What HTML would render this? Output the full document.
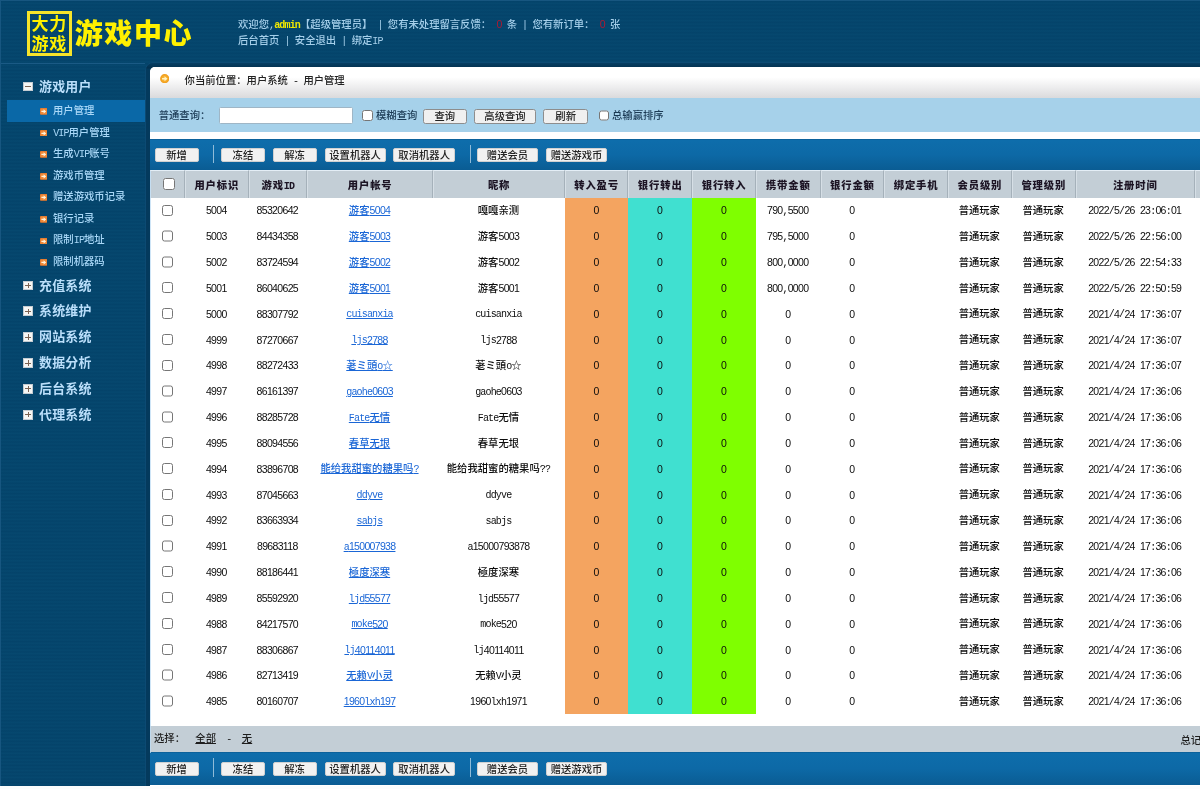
<!DOCTYPE html>
<html lang="zh-CN">
<head>
<meta charset="utf-8">
<title>游戏中心 - 用户管理</title>
<style>
*{box-sizing:border-box;margin:0;padding:0}
html,body{width:1200px;height:789px;overflow:hidden}
body{position:relative;background:#04446b;font-family:"Liberation Sans", "Noto Sans CJK SC", sans-serif;font-size:10.33px;font-weight:500;color:#222;line-height:1}
#bg{position:absolute;left:0;top:0;width:1200px;height:789px;background:repeating-linear-gradient(180deg,#06486f 0,#04436a 1.72px,#06486f 3.44px)}
.d{position:relative;left:0.1px;white-space:pre;font-family:"Liberation Sans",sans-serif;font-size:10.5px;letter-spacing:-0.67px}
.a{position:relative;left:0;white-space:pre;font-family:"Liberation Mono",monospace;font-size:10px;letter-spacing:-0.83px}
/* header */
#logo{position:absolute;left:26.6px;top:11.1px;width:45.4px;height:45px;border:3px solid #f6e42a;color:#fff100;font-family:"Liberation Sans","Noto Sans CJK SC",sans-serif;font-weight:700;font-size:17px;line-height:20.2px;text-align:center;padding-top:1.2px;padding-left:0;white-space:nowrap;letter-spacing:0.8px}
#brand{position:absolute;left:74.8px;top:15.2px;height:40px;line-height:40px;color:#fff100;font-family:"Liberation Sans","Noto Sans CJK SC",sans-serif;font-weight:900;font-size:28px;letter-spacing:1.55px;white-space:nowrap}
.hl{position:absolute;left:238px;height:14px;line-height:14px;color:#a5cfea;white-space:nowrap}
.hl b{color:#f0e800;font-weight:700}
.hl i{color:#b01830;font-style:normal}
/* sidebar */
#sline{position:absolute;left:0;top:63px;width:145px;height:1px;background:#1a5a85}
#etop{position:absolute;left:0;top:0;width:1200px;height:1px;background:#175680}
#eleft{position:absolute;left:0;top:0;width:1px;height:789px;background:#175680}
.sec{position:absolute;left:39px;height:16px;line-height:16px;font-weight:700;font-size:12.95px;letter-spacing:0.2px;color:#badefa;font-family:"Liberation Sans", "Noto Sans CJK SC", sans-serif;white-space:nowrap}
.pm{position:absolute;left:23.2px;width:9.8px;height:9.8px;background:#f6f6f4;border:1px solid #c4ccd2}
.pm:before{content:"";position:absolute;left:1.1px;top:3.4px;width:5.6px;height:1px;background:#7a6252}
.pm.plus:after{content:"";position:absolute;left:3.4px;top:1.1px;width:1px;height:5.6px;background:#7a6252}
.it{position:absolute;left:53px;height:14px;line-height:14px;color:#a9d8f8;white-space:nowrap}
.ic{position:absolute;left:39.9px}
.it .a{left:0.2px}
#sel{position:absolute;left:6.8px;top:99.8px;width:138.4px;height:21.8px;background:#0a68a7}

#shade{position:absolute;left:145px;top:62px;width:1060px;height:740px;background:linear-gradient(180deg,#053e63 0,#03304e 5px,#043a5d 6px),#043a5d;border-radius:8px 0 0 0;border:1px solid #0c4a73}
#panel{position:absolute;left:150px;top:67px;width:1050px;height:722px;background:#fff;border-radius:5px 0 0 0;overflow:hidden}
#tbar{position:absolute;left:0;top:0;width:1050px;height:31.3px;background:linear-gradient(180deg,#fff 0,#fff 33%,#dadadc 100%)}
#loc{position:absolute;left:34.6px;top:6.6px;height:14px;line-height:14px;color:#222;white-space:nowrap}
#sbar{position:absolute;left:0;top:31.3px;width:1050px;height:33.8px;background:#a6d1ea}
.tool{position:absolute;left:0;width:1050px;height:31.2px;background:linear-gradient(180deg,#0a5c94 0,#0e6dab 1.5px,#0d69a6 50%,#0a5c93 100%)}
.btn{position:absolute;display:block;appearance:none;-webkit-appearance:none;margin:0;padding:1.1px 0 0 0;height:14.4px;line-height:12.4px;text-align:center;background:#f1f1f1;border:1px solid #d0d0d0;border-radius:2px;color:#222;white-space:nowrap;font-family:inherit;font-weight:inherit;font-size:10.33px}
.sb{border-color:#8d8d8d;background:#f0f0f0;border-radius:2.5px}
.sep{position:absolute;width:1px;height:18.5px;background:#8fbbd8}
.cb{position:absolute;display:block;margin:0;padding:0;width:10.6px;height:10.8px}
.cb.r{width:11.4px;height:11.3px}
.lbl{position:absolute;height:14px;line-height:14px;white-space:nowrap;color:#1b3a54}
#inp{position:absolute;display:block;appearance:none;-webkit-appearance:none;margin:0;padding:0;outline:0;left:69.4px;top:39.6px;width:134px;height:17.8px;background:#fff;border:1px solid #9fb6c6;border-radius:1.5px}
#grid{position:absolute;left:0;top:102.9px;width:1110px;table-layout:fixed;border-collapse:separate;border-spacing:0}
#grid th{height:27.7px;padding:0;background:#c3ced6;border-top:1.5px solid #e4eef6;border-left:1px solid #d6dfe6;border-right:1px solid #a5b1ba;line-height:23.4px;vertical-align:top;padding-top:2.8px;text-align:center;font-weight:900;letter-spacing:0.85px;color:#1c1424;white-space:nowrap;overflow:hidden}
#grid td{height:25.84px;padding:1.6px 1.3px 0 0;line-height:24.24px;vertical-align:top;text-align:center;white-space:nowrap;color:#0c0c0c;overflow:hidden}
#grid td.c0{padding:7px 0 0 12.1px;line-height:0;text-align:left}
#grid th .hc{margin:7.5px 0 0 12.2px}
#grid th:first-child{text-align:left;padding-top:0;line-height:0}
#grid .cb{position:static}
#grid .k1{background:#f4a460}
#grid .k2{background:#40e0d0}
#grid .k3{background:#7fff00}
#grid a{color:#1a66d6;text-decoration:underline}
#grid .a,#grid .d{line-height:1}
#grid .d{top:0.3px}
.ft{color:#1e1e1e}
.ft a{color:#1e1e1e;text-decoration:underline}
#ledge{position:absolute;left:150px;top:171px;width:1px;height:582px;background:rgba(190,220,244,0.75)}
#bstrip{position:absolute;left:0;top:786px;width:1200px;height:3px;background:#fbfdfd}
#foot{position:absolute;left:0;top:659.3px;width:1050px;height:26px;background:#c3ced6}
</style>
</head>
<body>
<div id="bg"></div>
<header>
<div id="logo">大力<br>游戏</div>
<div id="brand">游戏中心</div>
<div class="hl" style="top:16.7px">欢迎您<span class="a">,</span><b class="a">admin</b>【超级管理员】<span class="a"> | </span>您有未处理留言反馈：<span class="a"> </span><i class="d">0</i><span class="a"> </span>条<span class="a"> | </span>您有新订单：<span class="a"> </span><i class="d">0</i><span class="a"> </span>张</div>
<div class="hl" style="top:34.1px">后台首页<span class="a"> | </span>安全退出<span class="a"> | </span>绑定<span class="a">IP</span></div>
</header>
<div id="sline"></div><div id="etop"></div><div id="eleft"></div>
<nav>
<div id="sel"></div>
<div class="pm" style="top:81.5px"></div><div class="sec" style="top:79px">游戏用户</div>
<svg class="ic" style="top:108.20px" width="7.4" height="6.7" viewBox="0 0 74 67"><rect width="74" height="67" rx="8" fill="#d8702a"/><rect x="5" y="5" width="64" height="57" rx="5" fill="#f08a38"/><path d="M14 27h22V13l26 21-26 21V41H14z" fill="#fff4dc"/></svg><div class="it" style="top:104.10px">用户管理</div>
<svg class="ic" style="top:129.75px" width="7.4" height="6.7" viewBox="0 0 74 67"><rect width="74" height="67" rx="8" fill="#d8702a"/><rect x="5" y="5" width="64" height="57" rx="5" fill="#f08a38"/><path d="M14 27h22V13l26 21-26 21V41H14z" fill="#fff4dc"/></svg><div class="it" style="top:125.65px"><span class="a">VIP</span>用户管理</div>
<svg class="ic" style="top:151.30px" width="7.4" height="6.7" viewBox="0 0 74 67"><rect width="74" height="67" rx="8" fill="#d8702a"/><rect x="5" y="5" width="64" height="57" rx="5" fill="#f08a38"/><path d="M14 27h22V13l26 21-26 21V41H14z" fill="#fff4dc"/></svg><div class="it" style="top:147.20px">生成<span class="a">VIP</span>账号</div>
<svg class="ic" style="top:172.85px" width="7.4" height="6.7" viewBox="0 0 74 67"><rect width="74" height="67" rx="8" fill="#d8702a"/><rect x="5" y="5" width="64" height="57" rx="5" fill="#f08a38"/><path d="M14 27h22V13l26 21-26 21V41H14z" fill="#fff4dc"/></svg><div class="it" style="top:168.75px">游戏币管理</div>
<svg class="ic" style="top:194.40px" width="7.4" height="6.7" viewBox="0 0 74 67"><rect width="74" height="67" rx="8" fill="#d8702a"/><rect x="5" y="5" width="64" height="57" rx="5" fill="#f08a38"/><path d="M14 27h22V13l26 21-26 21V41H14z" fill="#fff4dc"/></svg><div class="it" style="top:190.30px">赠送游戏币记录</div>
<svg class="ic" style="top:215.95px" width="7.4" height="6.7" viewBox="0 0 74 67"><rect width="74" height="67" rx="8" fill="#d8702a"/><rect x="5" y="5" width="64" height="57" rx="5" fill="#f08a38"/><path d="M14 27h22V13l26 21-26 21V41H14z" fill="#fff4dc"/></svg><div class="it" style="top:211.85px">银行记录</div>
<svg class="ic" style="top:237.50px" width="7.4" height="6.7" viewBox="0 0 74 67"><rect width="74" height="67" rx="8" fill="#d8702a"/><rect x="5" y="5" width="64" height="57" rx="5" fill="#f08a38"/><path d="M14 27h22V13l26 21-26 21V41H14z" fill="#fff4dc"/></svg><div class="it" style="top:233.40px">限制<span class="a">IP</span>地址</div>
<svg class="ic" style="top:259.05px" width="7.4" height="6.7" viewBox="0 0 74 67"><rect width="74" height="67" rx="8" fill="#d8702a"/><rect x="5" y="5" width="64" height="57" rx="5" fill="#f08a38"/><path d="M14 27h22V13l26 21-26 21V41H14z" fill="#fff4dc"/></svg><div class="it" style="top:254.95px">限制机器码</div>
<div class="pm plus" style="top:280.60px"></div><div class="sec" style="top:277.50px">充值系统</div>
<div class="pm plus" style="top:306.44px"></div><div class="sec" style="top:303.34px">系统维护</div>
<div class="pm plus" style="top:332.28px"></div><div class="sec" style="top:329.18px">网站系统</div>
<div class="pm plus" style="top:358.12px"></div><div class="sec" style="top:355.02px">数据分析</div>
<div class="pm plus" style="top:383.96px"></div><div class="sec" style="top:380.86px">后台系统</div>
<div class="pm plus" style="top:409.80px"></div><div class="sec" style="top:406.70px">代理系统</div>
</nav>
<div id="shade"></div>
<main id="panel"><div id="tbar"></div>
<svg style="position:absolute;left:9.9px;top:6.9px" width="9.4" height="9.4" viewBox="0 0 10 10"><defs><radialGradient id="og" cx="0.5" cy="0.5" r="0.5"><stop offset="0" stop-color="#fdc24a"/><stop offset="0.75" stop-color="#f5a623"/><stop offset="1" stop-color="#eb9a1c"/></radialGradient></defs><circle cx="5" cy="5" r="4.9" fill="url(#og)"/><path d="M2.2 4.2h2.6V2.4L8 5 4.8 7.6V5.8H2.2z" fill="#fff3c4"/></svg>
<div id="loc">你当前位置：用户系统<span class="a"> - </span>用户管理</div>
<div id="sbar"></div>
<div class="lbl" style="left:8.7px;top:41.5px">普通查询：</div>
<input id="inp" type="text" value="">
<input type="checkbox" class="cb" style="left:212.3px;top:43.4px">
<div class="lbl" style="left:226.0px;top:41.9px">模糊查询</div>
<button type="button" class="btn sb" style="left:272.5px;top:42.2px;width:44.5px">查询</button>
<button type="button" class="btn sb" style="left:324.0px;top:42.2px;width:62.0px">高级查询</button>
<button type="button" class="btn sb" style="left:393.4px;top:42.2px;width:44.6px">刷新</button>
<input type="checkbox" class="cb" style="left:448.6px;top:43.4px">
<div class="lbl" style="left:462.0px;top:41.9px">总输赢排序</div>
<div class="tool" style="top:71.8px;height:31.2px"></div>
<button type="button" class="btn" style="left:4.7px;top:81.1px;width:43.9px">新增</button>
<button type="button" class="btn" style="left:71.1px;top:81.1px;width:43.7px">冻结</button>
<button type="button" class="btn" style="left:122.7px;top:81.1px;width:43.9px">解冻</button>
<button type="button" class="btn" style="left:174.6px;top:81.1px;width:61.0px">设置机器人</button>
<button type="button" class="btn" style="left:243.4px;top:81.1px;width:61.6px">取消机器人</button>
<button type="button" class="btn" style="left:327.0px;top:81.1px;width:61.0px">赠送会员</button>
<button type="button" class="btn" style="left:396.0px;top:81.1px;width:61.0px">赠送游戏币</button>
<div class="sep" style="left:63.3px;top:77.8px"></div>
<div class="sep" style="left:319.7px;top:77.8px"></div>
<table id="grid"><colgroup><col style="width:35.0px"><col style="width:63.6px"><col style="width:58.5px"><col style="width:126.1px"><col style="width:131.8px"><col style="width:63.3px"><col style="width:63.9px"><col style="width:63.8px"><col style="width:64.6px"><col style="width:63.7px"><col style="width:63.7px"><col style="width:64.0px"><col style="width:63.7px"><col style="width:119.3px"><col style="width:65.0px"></colgroup><thead><tr><th><input type="checkbox" class="cb r hc"></th><th>用户标识</th><th>游戏<span class="a">ID</span></th><th>用户帐号</th><th>昵称</th><th>转入盈亏</th><th>银行转出</th><th>银行转入</th><th>携带金额</th><th>银行金额</th><th>绑定手机</th><th>会员级别</th><th>管理级别</th><th>注册时间</th><th></th></tr></thead><tbody><tr><td class="c0"><input type="checkbox" class="cb r"></td><td><span class="d">5004</span></td><td><span class="d">85320642</span></td><td><a>游客<span class="d">5004</span></a></td><td>嘎嘎亲测</td><td class="k1"><span class="d">0</span></td><td class="k2"><span class="d">0</span></td><td class="k3"><span class="d">0</span></td><td><span class="d">790</span><span class="a">,</span><span class="d">5500</span></td><td><span class="d">0</span></td><td></td><td>普通玩家</td><td>普通玩家</td><td><span class="d">2022</span><span class="a">/</span><span class="d">5</span><span class="a">/</span><span class="d">26</span><span class="a"> </span><span class="d">23</span><span class="a">:</span><span class="d">06</span><span class="a">:</span><span class="d">01</span></td><td></td></tr><tr><td class="c0"><input type="checkbox" class="cb r"></td><td><span class="d">5003</span></td><td><span class="d">84434358</span></td><td><a>游客<span class="d">5003</span></a></td><td>游客<span class="d">5003</span></td><td class="k1"><span class="d">0</span></td><td class="k2"><span class="d">0</span></td><td class="k3"><span class="d">0</span></td><td><span class="d">795</span><span class="a">,</span><span class="d">5000</span></td><td><span class="d">0</span></td><td></td><td>普通玩家</td><td>普通玩家</td><td><span class="d">2022</span><span class="a">/</span><span class="d">5</span><span class="a">/</span><span class="d">26</span><span class="a"> </span><span class="d">22</span><span class="a">:</span><span class="d">56</span><span class="a">:</span><span class="d">00</span></td><td></td></tr><tr><td class="c0"><input type="checkbox" class="cb r"></td><td><span class="d">5002</span></td><td><span class="d">83724594</span></td><td><a>游客<span class="d">5002</span></a></td><td>游客<span class="d">5002</span></td><td class="k1"><span class="d">0</span></td><td class="k2"><span class="d">0</span></td><td class="k3"><span class="d">0</span></td><td><span class="d">800</span><span class="a">,</span><span class="d">0000</span></td><td><span class="d">0</span></td><td></td><td>普通玩家</td><td>普通玩家</td><td><span class="d">2022</span><span class="a">/</span><span class="d">5</span><span class="a">/</span><span class="d">26</span><span class="a"> </span><span class="d">22</span><span class="a">:</span><span class="d">54</span><span class="a">:</span><span class="d">33</span></td><td></td></tr><tr><td class="c0"><input type="checkbox" class="cb r"></td><td><span class="d">5001</span></td><td><span class="d">86040625</span></td><td><a>游客<span class="d">5001</span></a></td><td>游客<span class="d">5001</span></td><td class="k1"><span class="d">0</span></td><td class="k2"><span class="d">0</span></td><td class="k3"><span class="d">0</span></td><td><span class="d">800</span><span class="a">,</span><span class="d">0000</span></td><td><span class="d">0</span></td><td></td><td>普通玩家</td><td>普通玩家</td><td><span class="d">2022</span><span class="a">/</span><span class="d">5</span><span class="a">/</span><span class="d">26</span><span class="a"> </span><span class="d">22</span><span class="a">:</span><span class="d">50</span><span class="a">:</span><span class="d">59</span></td><td></td></tr><tr><td class="c0"><input type="checkbox" class="cb r"></td><td><span class="d">5000</span></td><td><span class="d">88307792</span></td><td><a><span class="a">cuisanxia</span></a></td><td><span class="a">cuisanxia</span></td><td class="k1"><span class="d">0</span></td><td class="k2"><span class="d">0</span></td><td class="k3"><span class="d">0</span></td><td><span class="d">0</span></td><td><span class="d">0</span></td><td></td><td>普通玩家</td><td>普通玩家</td><td><span class="d">2021</span><span class="a">/</span><span class="d">4</span><span class="a">/</span><span class="d">24</span><span class="a"> </span><span class="d">17</span><span class="a">:</span><span class="d">36</span><span class="a">:</span><span class="d">07</span></td><td></td></tr><tr><td class="c0"><input type="checkbox" class="cb r"></td><td><span class="d">4999</span></td><td><span class="d">87270667</span></td><td><a><span class="a">ljs</span><span class="d">2788</span></a></td><td><span class="a">ljs</span><span class="d">2788</span></td><td class="k1"><span class="d">0</span></td><td class="k2"><span class="d">0</span></td><td class="k3"><span class="d">0</span></td><td><span class="d">0</span></td><td><span class="d">0</span></td><td></td><td>普通玩家</td><td>普通玩家</td><td><span class="d">2021</span><span class="a">/</span><span class="d">4</span><span class="a">/</span><span class="d">24</span><span class="a"> </span><span class="d">17</span><span class="a">:</span><span class="d">36</span><span class="a">:</span><span class="d">07</span></td><td></td></tr><tr><td class="c0"><input type="checkbox" class="cb r"></td><td><span class="d">4998</span></td><td><span class="d">88272433</span></td><td><a>荖ミ頭<span class="a">o</span>☆</a></td><td>荖ミ頭<span class="a">o</span>☆</td><td class="k1"><span class="d">0</span></td><td class="k2"><span class="d">0</span></td><td class="k3"><span class="d">0</span></td><td><span class="d">0</span></td><td><span class="d">0</span></td><td></td><td>普通玩家</td><td>普通玩家</td><td><span class="d">2021</span><span class="a">/</span><span class="d">4</span><span class="a">/</span><span class="d">24</span><span class="a"> </span><span class="d">17</span><span class="a">:</span><span class="d">36</span><span class="a">:</span><span class="d">07</span></td><td></td></tr><tr><td class="c0"><input type="checkbox" class="cb r"></td><td><span class="d">4997</span></td><td><span class="d">86161397</span></td><td><a><span class="a">gaohe</span><span class="d">0603</span></a></td><td><span class="a">gaohe</span><span class="d">0603</span></td><td class="k1"><span class="d">0</span></td><td class="k2"><span class="d">0</span></td><td class="k3"><span class="d">0</span></td><td><span class="d">0</span></td><td><span class="d">0</span></td><td></td><td>普通玩家</td><td>普通玩家</td><td><span class="d">2021</span><span class="a">/</span><span class="d">4</span><span class="a">/</span><span class="d">24</span><span class="a"> </span><span class="d">17</span><span class="a">:</span><span class="d">36</span><span class="a">:</span><span class="d">06</span></td><td></td></tr><tr><td class="c0"><input type="checkbox" class="cb r"></td><td><span class="d">4996</span></td><td><span class="d">88285728</span></td><td><a><span class="a">Fate</span>无情</a></td><td><span class="a">Fate</span>无情</td><td class="k1"><span class="d">0</span></td><td class="k2"><span class="d">0</span></td><td class="k3"><span class="d">0</span></td><td><span class="d">0</span></td><td><span class="d">0</span></td><td></td><td>普通玩家</td><td>普通玩家</td><td><span class="d">2021</span><span class="a">/</span><span class="d">4</span><span class="a">/</span><span class="d">24</span><span class="a"> </span><span class="d">17</span><span class="a">:</span><span class="d">36</span><span class="a">:</span><span class="d">06</span></td><td></td></tr><tr><td class="c0"><input type="checkbox" class="cb r"></td><td><span class="d">4995</span></td><td><span class="d">88094556</span></td><td><a>春草无垠</a></td><td>春草无垠</td><td class="k1"><span class="d">0</span></td><td class="k2"><span class="d">0</span></td><td class="k3"><span class="d">0</span></td><td><span class="d">0</span></td><td><span class="d">0</span></td><td></td><td>普通玩家</td><td>普通玩家</td><td><span class="d">2021</span><span class="a">/</span><span class="d">4</span><span class="a">/</span><span class="d">24</span><span class="a"> </span><span class="d">17</span><span class="a">:</span><span class="d">36</span><span class="a">:</span><span class="d">06</span></td><td></td></tr><tr><td class="c0"><input type="checkbox" class="cb r"></td><td><span class="d">4994</span></td><td><span class="d">83896708</span></td><td><a>能给我甜蜜的糖果吗<span class="a">?</span></a></td><td>能给我甜蜜的糖果吗<span class="a">??</span></td><td class="k1"><span class="d">0</span></td><td class="k2"><span class="d">0</span></td><td class="k3"><span class="d">0</span></td><td><span class="d">0</span></td><td><span class="d">0</span></td><td></td><td>普通玩家</td><td>普通玩家</td><td><span class="d">2021</span><span class="a">/</span><span class="d">4</span><span class="a">/</span><span class="d">24</span><span class="a"> </span><span class="d">17</span><span class="a">:</span><span class="d">36</span><span class="a">:</span><span class="d">06</span></td><td></td></tr><tr><td class="c0"><input type="checkbox" class="cb r"></td><td><span class="d">4993</span></td><td><span class="d">87045663</span></td><td><a><span class="a">ddyve</span></a></td><td><span class="a">ddyve</span></td><td class="k1"><span class="d">0</span></td><td class="k2"><span class="d">0</span></td><td class="k3"><span class="d">0</span></td><td><span class="d">0</span></td><td><span class="d">0</span></td><td></td><td>普通玩家</td><td>普通玩家</td><td><span class="d">2021</span><span class="a">/</span><span class="d">4</span><span class="a">/</span><span class="d">24</span><span class="a"> </span><span class="d">17</span><span class="a">:</span><span class="d">36</span><span class="a">:</span><span class="d">06</span></td><td></td></tr><tr><td class="c0"><input type="checkbox" class="cb r"></td><td><span class="d">4992</span></td><td><span class="d">83663934</span></td><td><a><span class="a">sabjs</span></a></td><td><span class="a">sabjs</span></td><td class="k1"><span class="d">0</span></td><td class="k2"><span class="d">0</span></td><td class="k3"><span class="d">0</span></td><td><span class="d">0</span></td><td><span class="d">0</span></td><td></td><td>普通玩家</td><td>普通玩家</td><td><span class="d">2021</span><span class="a">/</span><span class="d">4</span><span class="a">/</span><span class="d">24</span><span class="a"> </span><span class="d">17</span><span class="a">:</span><span class="d">36</span><span class="a">:</span><span class="d">06</span></td><td></td></tr><tr><td class="c0"><input type="checkbox" class="cb r"></td><td><span class="d">4991</span></td><td><span class="d">89683118</span></td><td><a><span class="a">a</span><span class="d">150007938</span></a></td><td><span class="a">a</span><span class="d">15000793878</span></td><td class="k1"><span class="d">0</span></td><td class="k2"><span class="d">0</span></td><td class="k3"><span class="d">0</span></td><td><span class="d">0</span></td><td><span class="d">0</span></td><td></td><td>普通玩家</td><td>普通玩家</td><td><span class="d">2021</span><span class="a">/</span><span class="d">4</span><span class="a">/</span><span class="d">24</span><span class="a"> </span><span class="d">17</span><span class="a">:</span><span class="d">36</span><span class="a">:</span><span class="d">06</span></td><td></td></tr><tr><td class="c0"><input type="checkbox" class="cb r"></td><td><span class="d">4990</span></td><td><span class="d">88186441</span></td><td><a>極度深寒</a></td><td>極度深寒</td><td class="k1"><span class="d">0</span></td><td class="k2"><span class="d">0</span></td><td class="k3"><span class="d">0</span></td><td><span class="d">0</span></td><td><span class="d">0</span></td><td></td><td>普通玩家</td><td>普通玩家</td><td><span class="d">2021</span><span class="a">/</span><span class="d">4</span><span class="a">/</span><span class="d">24</span><span class="a"> </span><span class="d">17</span><span class="a">:</span><span class="d">36</span><span class="a">:</span><span class="d">06</span></td><td></td></tr><tr><td class="c0"><input type="checkbox" class="cb r"></td><td><span class="d">4989</span></td><td><span class="d">85592920</span></td><td><a><span class="a">ljd</span><span class="d">55577</span></a></td><td><span class="a">ljd</span><span class="d">55577</span></td><td class="k1"><span class="d">0</span></td><td class="k2"><span class="d">0</span></td><td class="k3"><span class="d">0</span></td><td><span class="d">0</span></td><td><span class="d">0</span></td><td></td><td>普通玩家</td><td>普通玩家</td><td><span class="d">2021</span><span class="a">/</span><span class="d">4</span><span class="a">/</span><span class="d">24</span><span class="a"> </span><span class="d">17</span><span class="a">:</span><span class="d">36</span><span class="a">:</span><span class="d">06</span></td><td></td></tr><tr><td class="c0"><input type="checkbox" class="cb r"></td><td><span class="d">4988</span></td><td><span class="d">84217570</span></td><td><a><span class="a">moke</span><span class="d">520</span></a></td><td><span class="a">moke</span><span class="d">520</span></td><td class="k1"><span class="d">0</span></td><td class="k2"><span class="d">0</span></td><td class="k3"><span class="d">0</span></td><td><span class="d">0</span></td><td><span class="d">0</span></td><td></td><td>普通玩家</td><td>普通玩家</td><td><span class="d">2021</span><span class="a">/</span><span class="d">4</span><span class="a">/</span><span class="d">24</span><span class="a"> </span><span class="d">17</span><span class="a">:</span><span class="d">36</span><span class="a">:</span><span class="d">06</span></td><td></td></tr><tr><td class="c0"><input type="checkbox" class="cb r"></td><td><span class="d">4987</span></td><td><span class="d">88306867</span></td><td><a><span class="a">lj</span><span class="d">40114011</span></a></td><td><span class="a">lj</span><span class="d">40114011</span></td><td class="k1"><span class="d">0</span></td><td class="k2"><span class="d">0</span></td><td class="k3"><span class="d">0</span></td><td><span class="d">0</span></td><td><span class="d">0</span></td><td></td><td>普通玩家</td><td>普通玩家</td><td><span class="d">2021</span><span class="a">/</span><span class="d">4</span><span class="a">/</span><span class="d">24</span><span class="a"> </span><span class="d">17</span><span class="a">:</span><span class="d">36</span><span class="a">:</span><span class="d">06</span></td><td></td></tr><tr><td class="c0"><input type="checkbox" class="cb r"></td><td><span class="d">4986</span></td><td><span class="d">82713419</span></td><td><a>无赖<span class="a">V</span>小灵</a></td><td>无赖<span class="a">V</span>小灵</td><td class="k1"><span class="d">0</span></td><td class="k2"><span class="d">0</span></td><td class="k3"><span class="d">0</span></td><td><span class="d">0</span></td><td><span class="d">0</span></td><td></td><td>普通玩家</td><td>普通玩家</td><td><span class="d">2021</span><span class="a">/</span><span class="d">4</span><span class="a">/</span><span class="d">24</span><span class="a"> </span><span class="d">17</span><span class="a">:</span><span class="d">36</span><span class="a">:</span><span class="d">06</span></td><td></td></tr><tr><td class="c0"><input type="checkbox" class="cb r"></td><td><span class="d">4985</span></td><td><span class="d">80160707</span></td><td><a><span class="d">1960</span><span class="a">lxh</span><span class="d">197</span></a></td><td><span class="d">1960</span><span class="a">lxh</span><span class="d">1971</span></td><td class="k1"><span class="d">0</span></td><td class="k2"><span class="d">0</span></td><td class="k3"><span class="d">0</span></td><td><span class="d">0</span></td><td><span class="d">0</span></td><td></td><td>普通玩家</td><td>普通玩家</td><td><span class="d">2021</span><span class="a">/</span><span class="d">4</span><span class="a">/</span><span class="d">24</span><span class="a"> </span><span class="d">17</span><span class="a">:</span><span class="d">36</span><span class="a">:</span><span class="d">06</span></td><td></td></tr></tbody></table>
<div id="foot"></div>
<div class="lbl ft" style="left:4.0px;top:665.3px">选择：<span class="a">  </span><a>全部</a><span class="a">  -  </span><a>无</a></div>
<div class="lbl ft" style="left:1030.5px;top:667.4px">总记录：</div>
<div class="tool" style="top:685.3px;height:32.3px"></div>
<button type="button" class="btn" style="left:4.7px;top:694.6px;width:43.9px">新增</button>
<button type="button" class="btn" style="left:71.1px;top:694.6px;width:43.7px">冻结</button>
<button type="button" class="btn" style="left:122.7px;top:694.6px;width:43.9px">解冻</button>
<button type="button" class="btn" style="left:174.6px;top:694.6px;width:61.0px">设置机器人</button>
<button type="button" class="btn" style="left:243.4px;top:694.6px;width:61.6px">取消机器人</button>
<button type="button" class="btn" style="left:327.0px;top:694.6px;width:61.0px">赠送会员</button>
<button type="button" class="btn" style="left:396.0px;top:694.6px;width:61.0px">赠送游戏币</button>
<div class="sep" style="left:63.3px;top:691.3px"></div>
<div class="sep" style="left:319.7px;top:691.3px"></div></main>
<div id="ledge"></div><div id="bstrip"></div>
</body>
</html>
